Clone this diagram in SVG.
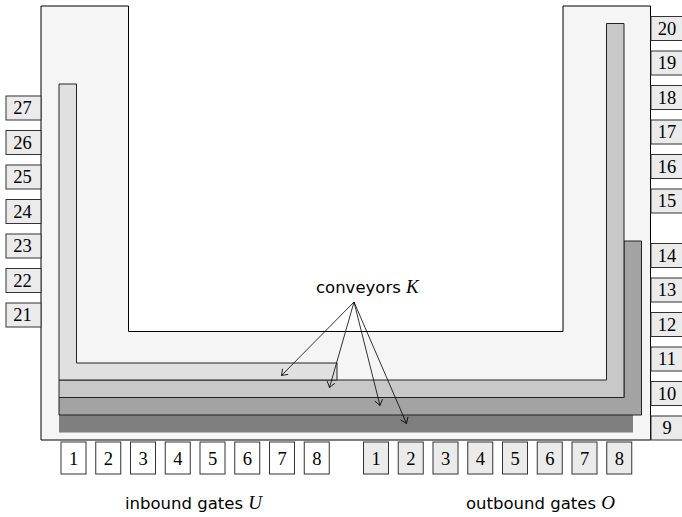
<svg xmlns="http://www.w3.org/2000/svg" width="682" height="517" viewBox="0 0 682 517">
  <style>
    .hall { fill: #f5f5f5; stroke: #000; stroke-width: 1; }
    .conv { stroke: #222; stroke-width: 1; }
    .gate rect { stroke: #333; stroke-width: 1; }
    .gin rect { fill: #fff; }
    .gout rect, .gside rect { fill: #ebebeb; }
    .num { font-family: "Liberation Serif", "DejaVu Serif", serif; font-size: 18.5px; text-anchor: middle; fill: #000; }
    .lbl { font-family: "DejaVu Sans", "Liberation Sans", sans-serif; font-size: 16.5px; fill: #000; }
    .var { font-family: "Liberation Serif", "DejaVu Serif", serif; font-style: italic; font-size: 19px; }
    .arrow { stroke: #000; stroke-width: 0.8; fill: none; marker-end: url(#to); }
  </style>
  <defs>
    <marker id="to" markerUnits="userSpaceOnUse" markerWidth="12" markerHeight="12" refX="0" refY="0" viewBox="-7 -6 9 12" orient="auto">
      <path d="M-5.5,-4 Q-1.5,-1 0,0 Q-1.5,1 -5.5,4" fill="none" stroke="#000" stroke-width="0.8"/>
    </marker>
  </defs>

  <!-- hall outline (U shape) -->
  <g id="hall">
    <path class="hall" d="M41,6 H128.5 V331.5 H563 V6 H650.5 V440 H41 Z"/>
  </g>

  <!-- conveyor belts -->
  <g id="conveyor4">
    <rect x="59" y="415" width="574" height="17.5" fill="#7f7f7f"/>
  </g>
  <g id="conveyor3">
    <path class="conv" fill="#a3a3a3" d="M59,397.5 H624 V241 H641.5 V415 H59 Z"/>
  </g>
  <g id="conveyor2">
    <path class="conv" fill="#c8c8c8" d="M59,380 H606.5 V23.5 H624 V397.5 H59 Z"/>
  </g>
  <g id="conveyor1">
    <path class="conv" fill="#e0e0e0" d="M59,84 H76.5 V363 H337 V380 H59 Z"/>
  </g>

  <!-- inbound gates -->
  <g id="inbound-gates" class="gate gin">
    <g id="in1"><rect x="61" y="442" width="25" height="32"/><text class="num" x="73.5" y="464.5">1</text></g>
    <g id="in2"><rect x="95.75" y="442" width="25" height="32"/><text class="num" x="108.25" y="464.5">2</text></g>
    <g id="in3"><rect x="130.5" y="442" width="25" height="32"/><text class="num" x="143" y="464.5">3</text></g>
    <g id="in4"><rect x="165.25" y="442" width="25" height="32"/><text class="num" x="177.75" y="464.5">4</text></g>
    <g id="in5"><rect x="200" y="442" width="25" height="32"/><text class="num" x="212.5" y="464.5">5</text></g>
    <g id="in6"><rect x="234.75" y="442" width="25" height="32"/><text class="num" x="247.25" y="464.5">6</text></g>
    <g id="in7"><rect x="269.5" y="442" width="25" height="32"/><text class="num" x="282" y="464.5">7</text></g>
    <g id="in8"><rect x="304.25" y="442" width="25" height="32"/><text class="num" x="316.75" y="464.5">8</text></g>
  </g>

  <!-- outbound gates -->
  <g id="outbound-gates" class="gate gout">
    <g id="out1"><rect x="363.5" y="442" width="25" height="32"/><text class="num" x="376" y="464.5">1</text></g>
    <g id="out2"><rect x="398.25" y="442" width="25" height="32"/><text class="num" x="410.75" y="464.5">2</text></g>
    <g id="out3"><rect x="433" y="442" width="25" height="32"/><text class="num" x="445.5" y="464.5">3</text></g>
    <g id="out4"><rect x="467.75" y="442" width="25" height="32"/><text class="num" x="480.25" y="464.5">4</text></g>
    <g id="out5"><rect x="502.5" y="442" width="25" height="32"/><text class="num" x="515" y="464.5">5</text></g>
    <g id="out6"><rect x="537.25" y="442" width="25" height="32"/><text class="num" x="549.75" y="464.5">6</text></g>
    <g id="out7"><rect x="572" y="442" width="25" height="32"/><text class="num" x="584.5" y="464.5">7</text></g>
    <g id="out8"><rect x="606.75" y="442" width="25" height="32"/><text class="num" x="619.25" y="464.5">8</text></g>
  </g>

  <!-- side gates, right wall -->
  <g id="right-gates" class="gate gside">
    <g id="g9"><rect x="651" y="416" width="35" height="24"/><text class="num" x="667" y="434">9</text></g>
    <g id="g10"><rect x="651" y="381.5" width="35" height="24"/><text class="num" x="667" y="399.5">10</text></g>
    <g id="g11"><rect x="651" y="347" width="35" height="24"/><text class="num" x="667" y="365">11</text></g>
    <g id="g12"><rect x="651" y="312.5" width="35" height="24"/><text class="num" x="667" y="330.5">12</text></g>
    <g id="g13"><rect x="651" y="278" width="35" height="24"/><text class="num" x="667" y="296">13</text></g>
    <g id="g14"><rect x="651" y="243.5" width="35" height="24"/><text class="num" x="667" y="261.5">14</text></g>
    <g id="g15"><rect x="651" y="189" width="35" height="24"/><text class="num" x="667" y="207">15</text></g>
    <g id="g16"><rect x="651" y="154.5" width="35" height="24"/><text class="num" x="667" y="172.5">16</text></g>
    <g id="g17"><rect x="651" y="120" width="35" height="24"/><text class="num" x="667" y="138">17</text></g>
    <g id="g18"><rect x="651" y="85.5" width="35" height="24"/><text class="num" x="667" y="103.5">18</text></g>
    <g id="g19"><rect x="651" y="51" width="35" height="24"/><text class="num" x="667" y="69">19</text></g>
    <g id="g20"><rect x="651" y="16.5" width="35" height="24"/><text class="num" x="667" y="34.5">20</text></g>
  </g>

  <!-- side gates, left wall -->
  <g id="left-gates" class="gate gside">
    <g id="g21"><rect x="6" y="303" width="35" height="24"/><text class="num" x="22.5" y="321">21</text></g>
    <g id="g22"><rect x="6" y="268.5" width="35" height="24"/><text class="num" x="22.5" y="286.5">22</text></g>
    <g id="g23"><rect x="6" y="234" width="35" height="24"/><text class="num" x="22.5" y="252">23</text></g>
    <g id="g24"><rect x="6" y="199.5" width="35" height="24"/><text class="num" x="22.5" y="217.5">24</text></g>
    <g id="g25"><rect x="6" y="165" width="35" height="24"/><text class="num" x="22.5" y="183">25</text></g>
    <g id="g26"><rect x="6" y="130.5" width="35" height="24"/><text class="num" x="22.5" y="148.5">26</text></g>
    <g id="g27"><rect x="6" y="96" width="35" height="24"/><text class="num" x="22.5" y="114">27</text></g>
  </g>

  <!-- labels -->
  <g id="labels">
    <text class="lbl" x="316" y="293">conveyors <tspan class="var">K</tspan></text>
    <text class="lbl" x="125" y="509">inbound gates <tspan class="var">U</tspan></text>
    <text class="lbl" x="466" y="509">outbound gates <tspan class="var">O</tspan></text>
  </g>

  <!-- connectors from the conveyor label -->
  <g id="connectors">
    <line class="arrow" x1="354" y1="302" x2="281.5" y2="375.5"/>
    <line class="arrow" x1="354" y1="302" x2="329.5" y2="387.5"/>
    <line class="arrow" x1="354" y1="302" x2="380" y2="405.5"/>
    <line class="arrow" x1="354" y1="302" x2="406.5" y2="423.5"/>
  </g>
</svg>
